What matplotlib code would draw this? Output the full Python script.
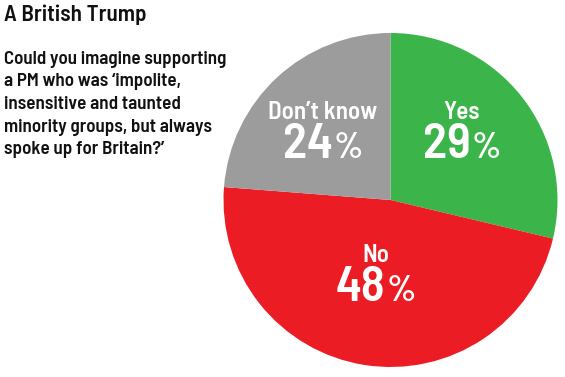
import matplotlib
matplotlib.use("Agg")
import matplotlib.pyplot as plt
from matplotlib import font_manager

categories = ["Yes", "No", "Don\u2019t know"]
values = [29, 48, 24]
colors = ["#3bb54a", "#ec1c24", "#9d9c9c"]

title = "A British Trump"
subtitle_lines = [
    "Could you imagine supporting",
    "a PM who was \u2018impolite,",
    "insensitive and taunted",
    "minority groups, but always",
    "spoke up for Britain?\u2019",
]

names = {f.name for f in font_manager.fontManager.ttflist}
prefs = ["Barlow Semi Condensed", "Roboto Condensed", "IBM Plex Sans Condensed",
         "Archivo Narrow", "Liberation Sans"]
FONT = next(p for p in prefs if p in names)
plt.rcParams["font.family"] = [FONT, "DejaVu Sans"]
WT = 600

W, H = 565, 377
fig = plt.figure(figsize=(W / 100, H / 100), dpi=100)
fig.patch.set_facecolor("white")

cx, cy, r = 390.5, 200.0, 167.0
ax = fig.add_axes([(cx - r) / W, 1 - (cy + r) / H, 2 * r / W, 2 * r / H])
ax.pie(values, colors=colors, startangle=90, counterclock=False,
       wedgeprops=dict(linewidth=0))
ax.set_xlim(-1, 1)
ax.set_ylim(-1, 1)
ax.set_aspect("equal")
ax.axis("off")

renderer = fig.canvas.get_renderer()

def px(x, y):
    return x / W, 1 - y / H

def fit_size(s, target_w, base=20):
    t = fig.text(0, 0, s, fontsize=base, fontweight=WT)
    w = t.get_window_extent(renderer).width
    t.remove()
    return base * target_w / w

title_fs = fit_size(title, 142)
fig.text(*px(4, 21), title, fontsize=title_fs, fontweight=WT, color="#111111",
         ha="left", va="baseline")
sub_fs = fit_size(subtitle_lines[0], 223)
baselines = [64, 86.5, 109, 131.5, 154]
for line, b in zip(subtitle_lines, baselines):
    fig.text(*px(4, b), line, fontsize=sub_fs, fontweight=WT, color="#111111",
             ha="left", va="baseline")

lab_fs = fit_size("Don\u2019t know", 109)
num_fs = fit_size("29", 48)
pc_fs = num_fs * 0.74

def pct_label(xc, yb, num):
    t1 = fig.text(*px(xc, yb), str(num), fontsize=num_fs, fontweight=WT,
                  color="white", ha="left", va="baseline")
    t2 = fig.text(*px(xc, yb), "%", fontsize=pc_fs, fontweight=WT,
                  color="white", ha="left", va="baseline")
    w1 = t1.get_window_extent(renderer).width
    w2 = t2.get_window_extent(renderer).width
    gap = 1
    total = w1 + gap + w2
    x0 = xc - total / 2
    t1.set_position(px(x0, yb))
    t2.set_position(px(x0 + w1 + gap, yb))

label_pos = {
    "Yes": (462, 119, 158),
    "No": (376, 262, 301),
    "Don\u2019t know": (323, 119, 158),
}
for cat, val in zip(categories, values):
    xc, yl, yp = label_pos[cat]
    fig.text(*px(xc, yl), cat, fontsize=lab_fs, fontweight=WT, color="white",
             ha="center", va="baseline")
    pct_label(xc, yp, val)

fig.savefig("out.png", dpi=100, facecolor="white")
